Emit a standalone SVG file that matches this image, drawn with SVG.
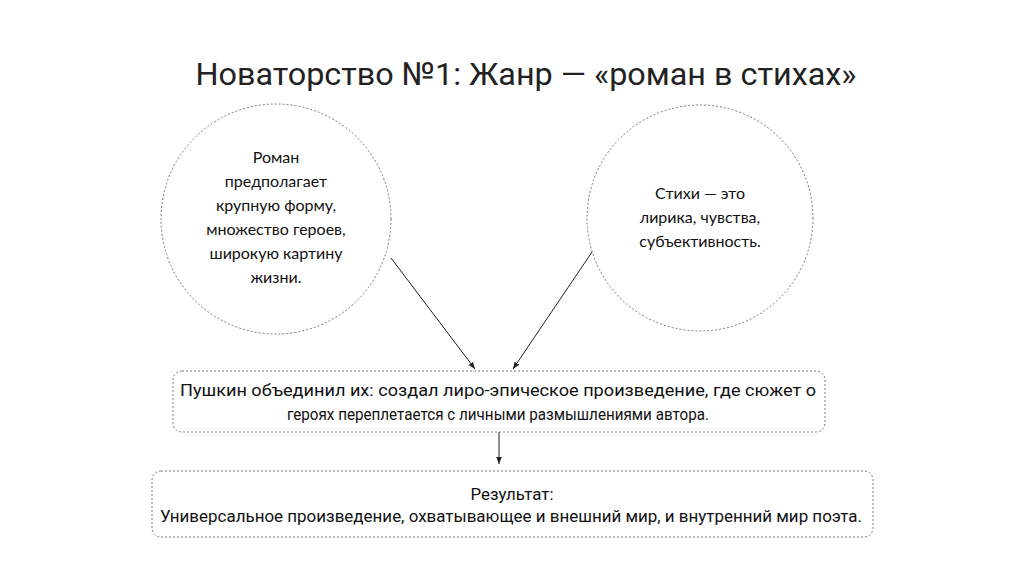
<svg xmlns="http://www.w3.org/2000/svg" width="1024" height="574" viewBox="0 0 1024 574">
<style>
.n{fill:#fff;stroke:#777;stroke-width:1;stroke-dasharray:2 2}
.c{font-family:Lato,"Noto Sans",sans-serif;font-size:16px;fill:#111;text-anchor:middle}
.b{font-family:Roboto,"Liberation Sans",sans-serif;font-size:16.5px;fill:#111;text-anchor:middle}
.e{stroke:#222;stroke-width:1;fill:none;marker-end:url(#a)}
</style>
<defs><marker id="a" viewBox="0 0 10 10" refX="10" refY="5" markerWidth="7" markerHeight="7" orient="auto"><path d="M0,1 L10,5 L0,9 z" fill="#222"/></marker></defs>
<rect width="1024" height="574" fill="#fff"/>
<text x="526" y="85" font-family="Roboto,'Liberation Sans',sans-serif" font-size="32" fill="#222" text-anchor="middle" textLength="661" lengthAdjust="spacingAndGlyphs">Новаторство №1: Жанр — «роман в стихах»</text>
<g id="roman"><circle class="n" cx="276" cy="219" r="115"/>
<text class="c"><tspan x="276" y="163">Роман</tspan><tspan x="276" y="187">предполагает</tspan><tspan x="276" y="211">крупную форму,</tspan><tspan x="276" y="235">множество героев,</tspan><tspan x="276" y="259">широкую картину</tspan><tspan x="276" y="283">жизни.</tspan></text></g>
<g id="stihi"><circle class="n" cx="700" cy="218" r="113"/>
<text class="c"><tspan x="700" y="199">Стихи — это</tspan><tspan x="700" y="223">лирика, чувства,</tspan><tspan x="700" y="247">субъективность.</tspan></text></g>
<g id="pushkin"><rect class="n" x="173" y="371" width="652" height="61" rx="9"/>
<text class="b"><tspan x="498" y="396" textLength="636" lengthAdjust="spacingAndGlyphs">Пушкин объединил их: создал лиро-эпическое произведение, где сюжет о</tspan><tspan x="498" y="420" textLength="422" lengthAdjust="spacingAndGlyphs">героях переплетается с личными размышлениями автора.</tspan></text></g>
<g id="result"><rect class="n" x="152" y="471" width="721" height="66" rx="9"/>
<text class="b"><tspan x="512" y="500" textLength="83" lengthAdjust="spacingAndGlyphs">Результат:</tspan><tspan x="511" y="522" textLength="702" lengthAdjust="spacingAndGlyphs">Универсальное произведение, охватывающее и внешний мир, и внутренний мир поэта.</tspan></text></g>
<g id="connectors">
<line class="e" x1="391" y1="258" x2="475" y2="369"/>
<line class="e" x1="592" y1="252" x2="513" y2="369"/>
<line class="e" x1="499" y1="432" x2="499" y2="464"/>
</g>
</svg>
